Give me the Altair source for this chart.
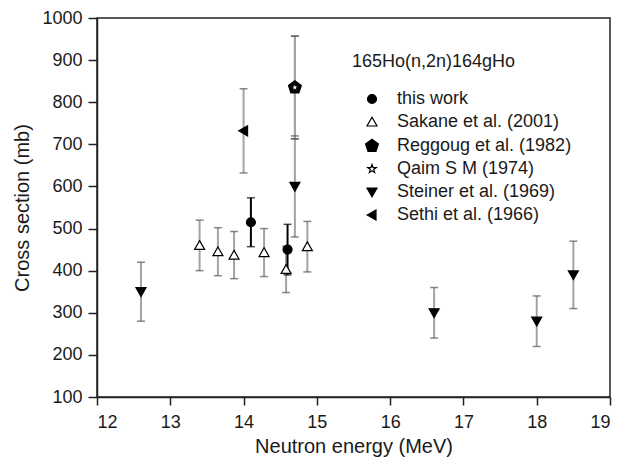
import altair as alt
import pandas as pd

series_order = ["this work", "Sakane et al. (2001)", "Reggoug et al. (1982)",
                "Qaim S M (1974)", "Steiner et al. (1969)", "Sethi et al. (1966)"]

this_x = [14.1, 14.6]
this_y = [515, 450]
this_err = [58, 60]

sak_x = [13.4, 13.65, 13.87, 14.28, 14.58, 14.87]
sak_y = [460, 445, 437, 443, 403, 457]
sak_err = [60, 57, 56, 57, 55, 60]

reg_x = [14.7]
reg_y = [835]
reg_err = [122]

qaim_x = [14.7]
qaim_y = [835]
qaim_err = [122]

stein_x = [12.6, 14.7, 16.6, 18.0, 18.5]
stein_y = [350, 600, 300, 280, 390]
stein_err = [70, 120, 60, 60, 80]

sethi_x = [14.0]
sethi_y = [732]
sethi_err = [100]

x_ticks = [12 + 0.5 * i for i in range(15)]
y_ticks = [100 + 50 * i for i in range(19)]

shape_paths = [
    "M0.9,0A0.9,0.9,0,1,1,-0.9,0A0.9,0.9,0,1,1,0.9,0Z",                    # circle
    "M0,-0.95L1,0.8L-1,0.8Z",                                              # triangle up
    "M0,-1.35L1.284,-0.417L0.794,1.092L-0.794,1.092L-1.284,-0.417Z",       # pentagon
    "M0,-0.9L0.212,-0.292L0.856,-0.278L0.343,0.111L0.529,0.728L0,0.36L-0.529,0.728L-0.343,0.111L-0.856,-0.278L-0.212,-0.292Z",  # star
    "M-1,-0.8L1,-0.8L0,0.95Z",                                             # triangle down
    "M-0.95,0L0.8,-1L0.8,1Z",                                              # triangle left
]
fills = ["black", "white", "black", "white", "black", "black"]
strokes = ["black"] * 6

rows = []
for name, xs, ys, es, z in [
    ("Sakane et al. (2001)", sak_x, sak_y, sak_err, 1),
    ("Steiner et al. (1969)", stein_x, stein_y, stein_err, 2),
    ("Sethi et al. (1966)", sethi_x, sethi_y, sethi_err, 3),
    ("Reggoug et al. (1982)", reg_x, reg_y, reg_err, 4),
    ("Qaim S M (1974)", qaim_x, qaim_y, qaim_err, 5),
    ("this work", this_x, this_y, this_err, 6),
]:
    for xv, yv, ev in zip(xs, ys, es):
        rows.append({"series": name, "x": xv, "y": yv, "err": ev, "z": z})

df = pd.DataFrame(rows)
df["lo"] = df["y"] - df["err"]
df["hi"] = df["y"] + df["err"]
df["bar_color"] = ["black" if s == "this work" else "#a3a3a3" for s in df["series"]]
df["cap_color"] = ["black" if s == "this work" else "#555555" for s in df["series"]]

FONT = "Liberation Sans"
TXT = "#1a1a1a"

xscale = alt.Scale(domain=[12, 19], nice=False, zero=False)
yscale = alt.Scale(domain=[100, 1000], nice=False, zero=False)

xaxis = alt.Axis(
    values=x_ticks, format="d",
    labelExpr="datum.value % 1 === 0 ? datum.label : ''",
    tickSize={"condition": {"test": "datum.value % 1 === 0", "value": 8}, "value": 4},
    labelPadding=8, grid=False, titleY=55, titleBaseline="alphabetic",
)
yaxis = alt.Axis(
    values=y_ticks, format="d",
    labelExpr="datum.value % 100 === 0 ? datum.label : ''",
    tickSize={"condition": {"test": "datum.value % 100 === 0", "value": 9}, "value": 5},
    labelPadding=6, grid=False, titleX=-75, titleBaseline="middle",
)

base = alt.Chart(df)

bars = base.mark_rule(strokeWidth=2).encode(
    x=alt.X("x:Q", scale=xscale, axis=xaxis, title="Neutron energy (MeV)"),
    y=alt.Y("lo:Q", scale=yscale, axis=yaxis, title="Cross section (mb)"),
    y2="hi:Q",
    color=alt.Color("bar_color:N", scale=None),
    order=alt.Order("z:Q"),
)

caps_lo = base.mark_tick(orient="horizontal", size=8, thickness=1.5).encode(
    x=alt.X("x:Q", scale=xscale),
    y=alt.Y("lo:Q", scale=yscale),
    color=alt.Color("cap_color:N", scale=None),
)
caps_hi = base.mark_tick(orient="horizontal", size=8, thickness=1.5).encode(
    x=alt.X("x:Q", scale=xscale),
    y=alt.Y("hi:Q", scale=yscale),
    color=alt.Color("cap_color:N", scale=None),
)

leg = alt.Legend(title="165Ho(n,2n)164gHo", orient="none", legendX=255, legendY=35,
                 labelLimit=300)

points = base.mark_point(filled=True, size=100, strokeWidth=1.2, opacity=1).encode(
    x=alt.X("x:Q", scale=xscale),
    y=alt.Y("y:Q", scale=yscale),
    shape=alt.Shape("series:N", scale=alt.Scale(domain=series_order, range=shape_paths), legend=leg),
    fill=alt.Fill("series:N", scale=alt.Scale(domain=series_order, range=fills), legend=leg),
    stroke=alt.Stroke("series:N", scale=alt.Scale(domain=series_order, range=strokes), legend=leg),
    order=alt.Order("z:Q"),
)

chart = alt.layer(bars, caps_lo, caps_hi, points).properties(
    width=513, height=379,
    padding={"left": 89, "top": 10, "right": 5, "bottom": 63},
    autosize="none",
).configure_view(
    stroke="#222222", strokeWidth=1.5,
).configure_axis(
    labelFont=FONT, titleFont=FONT, labelFontSize=18, titleFontSize=20,
    labelColor=TXT, titleColor=TXT, titleFontWeight="normal",
    domainColor="#222222", domainWidth=1.5, tickColor="#222222", tickWidth=1.5,
).configure_legend(
    labelFont=FONT, titleFont=FONT, labelFontSize=18, titleFontSize=18,
    titleFontWeight="normal", labelColor=TXT, titleColor=TXT,
    padding=0, titlePadding=19, rowPadding=5, symbolOffset=11, labelOffset=16,
    symbolSize=100, symbolStrokeWidth=1.2,
)

chart.save("out.html", embed_options={"renderer": "svg", "actions": False})
